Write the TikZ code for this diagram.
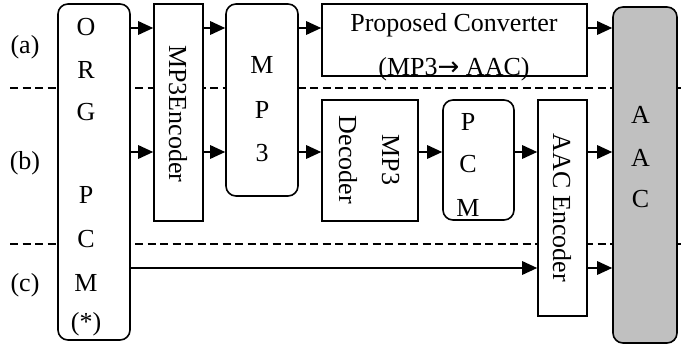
\documentclass[tikz,border=0pt]{standalone}
\usepackage{fontspec}
\setmainfont{Liberation Serif}
\newfontfamily\arrowfont{DejaVu Sans}
\usetikzlibrary{arrows.meta}
\definecolor{aacgray}{RGB}{192,192,192}
\begin{document}
\begin{tikzpicture}[x=1pt,y=-1pt,
  box/.style={draw, line width=1.6pt, fill=white, inner sep=0pt},
  rbox/.style={box, rounded corners=10pt},
  flow/.style={line width=1.6pt, -{Triangle[length=15pt,width=13.5pt]}},
  sep/.style={line width=1.3pt, dash pattern=on 8pt off 4.5pt},
  txt/.style={font=\fontsize{26}{43}\selectfont, inner sep=0pt},
  letter/.style={txt, anchor=base},
  vtxt/.style={txt, rotate=-90, align=center}
]
\useasboundingbox (0,0) rectangle (689,345);

% row heights of the three signal paths
\coordinate (ya) at (0,28);
\coordinate (yb) at (0,152);
\coordinate (yc) at (0,268);

% separators between the three cases
\coordinate (s1a) at (10,88);  \coordinate (s1b) at (684,88);
\coordinate (s2a) at (10,244); \coordinate (s2b) at (684,244);
\draw[sep] (s1a) -- (s1b);
\draw[sep] (s2a) -- (s2b);

% blocks
\node[rbox, minimum width=72pt, minimum height=336pt] (org) at (94,172) {};
\node[box,  minimum width=49pt, minimum height=217pt] (enc) at (178.5,112.5) {};
\node[rbox, minimum width=72pt, minimum height=192pt] (mp3) at (262,100) {};
\node[box,  minimum width=265pt, minimum height=72pt] (conv) at (454.5,40) {};
\node[box,  minimum width=96pt, minimum height=121pt] (dec) at (370,160.5) {};
\node[rbox, minimum width=71pt, minimum height=120pt] (pcm) at (478.5,160) {};
\node[box,  minimum width=49pt, minimum height=216pt] (aenc) at (562.5,208) {};
\node[rbox, fill=aacgray, minimum width=64pt, minimum height=336pt] (aac) at (645,175) {};

% path (a)
\draw[flow] (org.east |- ya) -- (enc.west |- ya);
\draw[flow] (enc.east |- ya) -- (mp3.west |- ya);
\draw[flow] (mp3.east |- ya) -- (conv.west |- ya);
\draw[flow] (conv.east |- ya) -- (aac.west |- ya);
% path (b)
\draw[flow] (org.east |- yb) -- (enc.west |- yb);
\draw[flow] (enc.east |- yb) -- (mp3.west |- yb);
\draw[flow] (mp3.east |- yb) -- (dec.west |- yb);
\draw[flow] (dec.east |- yb) -- (pcm.west |- yb);
\draw[flow] (pcm.east |- yb) -- (aenc.west |- yb);
\draw[flow] (aenc.east |- yb) -- (aac.west |- yb);
% path (c)
\draw[flow] (org.east |- yc) -- (aenc.west |- yc);
\draw[flow] (aenc.east |- yc) -- (aac.west |- yc);

% case labels
\node[letter] (la) at (25,54) {(a)};
\node[letter] (lb) at (25,169) {(b)};
\node[letter] (lc) at (25,291) {(c)};

% original PCM
\node[letter] (o1) at (86,36) {O};
\node[letter] (o2) at (86,79) {R};
\node[letter] (o3) at (86,121) {G};
\node[letter] (o4) at (86,204) {P};
\node[letter] (o5) at (86,247) {C};
\node[letter] (o6) at (86,291) {M};
\node[letter] (o7) at (86,330) {(*)};

% MP3 stream
\node[letter] (m1) at (262,74) {M};
\node[letter] (m2) at (262,119) {P};
\node[letter] (m3) at (262,161) {3};

% decoded PCM
\node[letter] (p1) at (468,131) {P};
\node[letter] (p2) at (468,172) {C};
\node[letter] (p3) at (468,216) {M};

% AAC output
\node[letter] (a1) at (640.5,124) {A};
\node[letter] (a2) at (640.5,166) {A};
\node[letter] (a3) at (640.5,207) {C};

% converter and codec labels
\node[letter] (ct1) at (454,32) {Proposed Converter};
\node[letter] (ct2) at (454,76) {(MP3{\arrowfont→} AAC)};
\node[vtxt] (et) at (178,114) {MP3Encoder};
\node[vtxt] (dt) at (369,160) {MP3\\Decoder};
\node[vtxt] (at) at (562,208) {AAC Encoder};
\end{tikzpicture}
\end{document}
